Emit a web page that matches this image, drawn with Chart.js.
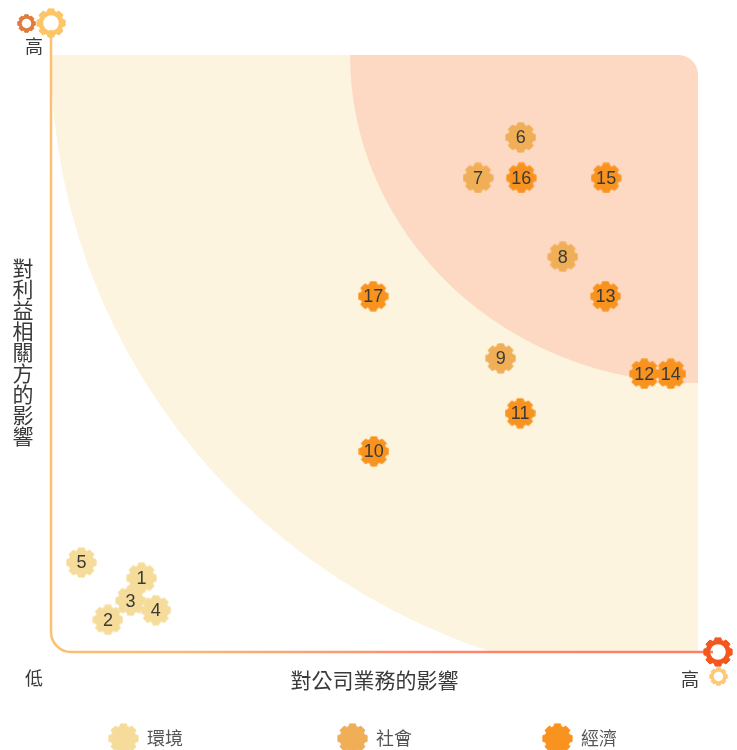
<!DOCTYPE html>
<html>
<head>
<meta charset="utf-8">
<style>
  html, body { margin: 0; padding: 0; background: #fff; }
  #wrap { position: relative; width: 737px; height: 750px; }
</style>
<script src="https://cdn.jsdelivr.net/npm/chart.js@4/dist/chart.umd.min.js"></script>
</head>
<body>
<div id="wrap"><canvas id="chart" width="737" height="750"></canvas></div>
<script>
// Datos (escala 0-100 en ambos ejes)
const envLabels = ['1', '2', '3', '4', '5'];
const envX = [14, 8.8, 12.3, 16.2, 4.7];
const envY = [12.4, 5.4, 8.6, 7, 15];
const socLabels = ['6', '7', '8', '9'];
const socX = [72.6, 66, 79.1, 69.5];
const socY = [86.2, 79.4, 66.2, 49.2];
const ecoLabels = ['10', '11', '12', '13', '14', '15', '16', '17'];
const ecoX = [49.9, 72.5, 91.7, 85.7, 95.8, 85.8, 72.7, 49.8];
const ecoY = [33.6, 40, 46.6, 59.6, 46.6, 79.4, 79.4, 59.6];
const legendNames = ['環境', '社會', '經濟'];
const legendColors = ['#f5dc9b', '#f0ae57', '#f9931f'];
const xAxisTitle = '對公司業務的影響';
const yAxisTitle = '對利益相關方的影響';
const lowLabel = '低';
const highLabel = '高';

const CJK = '"Noto Sans CJK TC", "Noto Sans", sans-serif';
const NUM = '"Liberation Sans", sans-serif';

// Engranaje como canvas, para usarlo de pointStyle
function makeGear(size, color, hole) {
    const c = document.createElement('canvas');
    c.width = size;
    c.height = size;
    const ctx = c.getContext('2d');
    const mid = size / 2;
    const outer = mid - 0.6;
    const inner = outer * 0.84;
    const teeth = 8;
    ctx.fillStyle = color;
    ctx.strokeStyle = color;
    ctx.lineWidth = 1;
    ctx.lineJoin = 'round';
    ctx.beginPath();
    for (let i = 0; i < teeth; i++) {
        const a = i * Math.PI * 2 / teeth - Math.PI / 2;
        [[-0.3, inner], [-0.2, outer], [0.2, outer], [0.3, inner]].forEach(([da, rad]) => {
            ctx.lineTo(mid + Math.cos(a + da) * rad, mid + Math.sin(a + da) * rad);
        });
    }
    ctx.closePath();
    ctx.fill();
    ctx.stroke();
    if (hole) {
        ctx.globalCompositeOperation = 'destination-out';
        ctx.beginPath();
        ctx.arc(mid, mid, mid * hole, 0, Math.PI * 2);
        ctx.fill();
    }
    return c;
}

const gearEnv = makeGear(31, legendColors[0]);
const gearSoc = makeGear(31, legendColors[1]);
const gearEco = makeGear(31, legendColors[2]);

function toPoints(xs, ys) {
    return xs.map((x, i) => ({ x: x, y: ys[i] }));
}

// Zonas de fondo y ejes, antes de dibujar los puntos
const backgroundPlugin = {
    id: 'backgroundZones',
    beforeDatasetsDraw(chart) {
        const { ctx, chartArea: a } = chart;
        const cx = a.right;
        const cy = a.top;
        ctx.save();
        ctx.beginPath();
        ctx.roundRect(a.left, a.top, a.right - a.left, a.bottom - a.top, [0, 20, 0, 0]);
        ctx.clip();
        ctx.fillStyle = '#fcf4df';
        ctx.beginPath();
        ctx.moveTo(cx, cy);
        ctx.ellipse(cx, cy, a.right - a.left, 630, 0, Math.PI / 2, Math.PI);
        ctx.closePath();
        ctx.fill();
        ctx.fillStyle = '#fdd9c4';
        ctx.beginPath();
        ctx.moveTo(cx, cy);
        ctx.ellipse(cx, cy, 348, 328, 0, Math.PI / 2, Math.PI);
        ctx.closePath();
        ctx.fill();
        ctx.restore();

        const grad = ctx.createLinearGradient(a.left, 0, a.right, 0);
        grad.addColorStop(0, '#fcc070');
        grad.addColorStop(0.2, '#fcb872');
        grad.addColorStop(0.6, '#fb8a6c');
        grad.addColorStop(1, '#f9806a');
        ctx.save();
        ctx.strokeStyle = grad;
        ctx.lineWidth = 2.5;
        ctx.beginPath();
        ctx.moveTo(a.left, 30);
        ctx.arcTo(a.left, a.bottom, a.left + 20, a.bottom, 20);
        ctx.lineTo(a.right + 15, a.bottom);
        ctx.stroke();
        ctx.restore();
    }
};

// Numeros sobre los puntos, textos y leyenda
const labelsPlugin = {
    id: 'pointLabels',
    afterDatasetsDraw(chart) {
        const { ctx } = chart;
        ctx.save();
        ctx.textAlign = 'center';
        ctx.textBaseline = 'middle';
        ctx.fillStyle = '#3b3a36';
        ctx.font = '18px ' + NUM;
        chart.data.datasets.forEach((ds, i) => {
            chart.getDatasetMeta(i).data.forEach((pt, j) => {
                ctx.fillText(ds.labels[j], pt.x, pt.y + 1);
            });
        });

        ctx.drawImage(makeGear(19, '#e07b3c', 0.5), 17, 14);
        ctx.drawImage(makeGear(30, '#fdc566', 0.52), 36, 8);
        ctx.drawImage(makeGear(30, '#f4571d', 0.52), 703, 637);
        ctx.drawImage(makeGear(19, '#fdc975', 0.5), 709, 667);

        ctx.fillStyle = '#3a3a3a';
        ctx.font = '18px ' + CJK;
        ctx.fillText(highLabel, 34, 46);
        ctx.fillText(lowLabel, 34, 678);
        ctx.fillText(highLabel, 690, 679);

        ctx.font = '21px ' + CJK;
        Array.from(yAxisTitle).forEach((ch, i) => {
            ctx.fillText(ch, 23, 268 + i * 21);
        });

        const gears = [gearEnv, gearSoc, gearEco];
        const legendX = [108, 337, 542];
        ctx.textAlign = 'left';
        ctx.fillStyle = '#555';
        ctx.font = '18px ' + CJK;
        legendNames.forEach((name, i) => {
            ctx.drawImage(gears[i], legendX[i], 723);
            ctx.fillText(name, legendX[i] + 39, 738);
        });
        ctx.restore();
    }
};

function gearDataset(xs, ys, labels, gear) {
    return {
        data: toPoints(xs, ys),
        labels: labels,
        pointStyle: gear,
        pointRadius: 15,
        pointHoverRadius: 15,
        showLine: false
    };
}

new Chart(document.getElementById('chart'), {
    type: 'scatter',
    data: {
        datasets: [
            gearDataset(envX, envY, envLabels, gearEnv),
            gearDataset(socX, socY, socLabels, gearSoc),
            gearDataset(ecoX, ecoY, ecoLabels, gearEco)
        ]
    },
    options: {
        responsive: false,
        animation: false,
        layout: { padding: { left: 51, right: 39, top: 55, bottom: 0 } },
        plugins: { legend: { display: false }, tooltip: { enabled: false } },
        scales: {
            x: {
                min: 0,
                max: 100,
                afterFit(scale) { scale.height = 98; },
                grid: { display: false },
                border: { display: false },
                ticks: { display: false },
                title: {
                    display: true,
                    text: xAxisTitle,
                    color: '#3a3a3a',
                    font: { family: CJK, size: 21 },
                    padding: { top: 14, bottom: 57 }
                }
            },
            y: {
                min: 0,
                max: 100,
                afterFit(scale) { scale.width = 0; },
                grid: { display: false },
                border: { display: false },
                ticks: { display: false }
            }
        }
    },
    plugins: [backgroundPlugin, labelsPlugin]
});
</script>
</body>
</html>
